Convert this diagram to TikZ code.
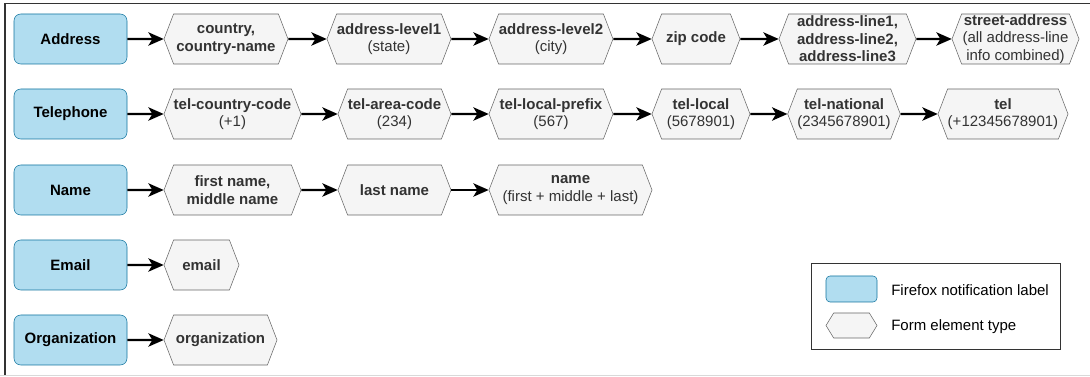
\documentclass[tikz,border=0pt]{standalone}
\usepackage{fontspec}
\setmainfont{Liberation Sans}
\usetikzlibrary{shapes.symbols,arrows.meta}
\definecolor{lblfill}{HTML}{B1DDF0}
\definecolor{lbldraw}{HTML}{10739E}
\definecolor{elfill}{HTML}{F5F5F5}
\definecolor{eldraw}{HTML}{666666}
\definecolor{eltext}{HTML}{333333}
\begin{document}
\begin{tikzpicture}[x=0.75pt,y=-0.75pt,
    lbl/.style={draw=lbldraw,fill=lblfill,rounded corners=5pt,minimum width=84.75pt,minimum height=37.5pt,inner sep=0pt,font=\bfseries},
    el/.style={signal,signal to=east and west,signal pointer angle=138,draw=eldraw,fill=elfill,text=eltext,minimum height=37.5pt,inner sep=0pt,align=center},
    wd/.style={minimum width=#1*0.75pt},
    go/.style={-{Stealth[length=11.5pt,width=10pt,inset=3pt]},line width=1.6pt}]
  \fontsize{11.25}{13.2}\selectfont
  \useasboundingbox (0,0) rectangle (1090,377);
  \draw[black!80,line width=0.9pt] (5,375) -- (5,3.5) -- (1090,3.5);
  \draw[black!15,line width=0.75pt] (0,375.5) -- (1090,375.5);
  % address
  \node[lbl] (addr) at (70.5,39) {Address};
  \node[el,wd=124] (cty) at (226,39) {\bfseries country,\\\bfseries country-name};
  \node[el,wd=124] (lv1) at (389,39) {\bfseries address-level1\\(state)};
  \node[el,wd=124] (lv2) at (551,39) {\bfseries address-level2\\(city)};
  \node[el,wd=88] (zip) at (696,39) {\bfseries zip code};
  \node[el,wd=137] (lns) at (847.5,39) {\bfseries address-line1,\\\bfseries address-line2,\\\bfseries address-line3};
  \node[el,wd=127] (str) at (1015.5,39) {\bfseries street-address\\(all address-line\\info combined)};
  \draw[go] (addr) -- (cty);
  \draw[go] (cty) -- (lv1);
  \draw[go] (lv1) -- (lv2);
  \draw[go] (lv2) -- (zip);
  \draw[go] (zip) -- (lns);
  \draw[go] (lns) -- (str);
  % telephone
  \node[lbl] (tel) at (70.5,114) {Telephone};
  \node[el,wd=137] (tcc) at (232.5,114) {\bfseries tel-country-code\\(+1)};
  \node[el,wd=113] (tac) at (394.5,114) {\bfseries tel-area-code\\(234)};
  \node[el,wd=124] (tlp) at (551,114) {\bfseries tel-local-prefix\\(567)};
  \node[el,wd=98] (tlc) at (701,114) {\bfseries tel-local\\(5678901)};
  \node[el,wd=110] (tnl) at (844,114) {\bfseries tel-national\\(2345678901)};
  \node[el,wd=130] (tfl) at (1003,114) {\bfseries tel\\(+12345678901)};
  \draw[go] (tel) -- (tcc);
  \draw[go] (tcc) -- (tac);
  \draw[go] (tac) -- (tlp);
  \draw[go] (tlp) -- (tlc);
  \draw[go] (tlc) -- (tnl);
  \draw[go] (tnl) -- (tfl);
  % name
  \node[lbl] (nam) at (70.5,190) {Name};
  \node[el,wd=137] (fnm) at (232.5,190) {\bfseries first name,\\\bfseries middle name};
  \node[el,wd=113] (lnm) at (394.5,190) {\bfseries last name};
  \node[el,wd=163] (fll) at (570.5,190) {\bfseries name\\(first + middle + last)};
  \draw[go] (nam) -- (fnm);
  \draw[go] (fnm) -- (lnm);
  \draw[go] (lnm) -- (fll);
  % email, organization
  \node[lbl] (eml) at (70.5,265) {Email};
  \node[el,wd=75] (em) at (201.5,265) {\bfseries email};
  \draw[go] (eml) -- (em);
  \node[lbl] (org) at (70.5,340) {Organization};
  \node[el,wd=113] (og) at (220.5,340) {\bfseries organization};
  \draw[go] (org) -- (og);
  % legend
  \node[draw=black!80,minimum width=186.75pt,minimum height=64.5pt] (key) at (935.5,306) {};
  \node[lbl,minimum width=38.25pt,minimum height=19.5pt,rounded corners=3pt] (kl) at (851.5,289) {};
  \node[el,minimum width=38.25pt,minimum height=18.75pt,signal pointer angle=117] (ke) at (851.5,325.5) {};
  \node[anchor=west,inner sep=0pt] (klt) at (891,290) {Firefox notification label};
  \node[anchor=west,inner sep=0pt] (ket) at (891,327) {Form element type};
\end{tikzpicture}
\end{document}
